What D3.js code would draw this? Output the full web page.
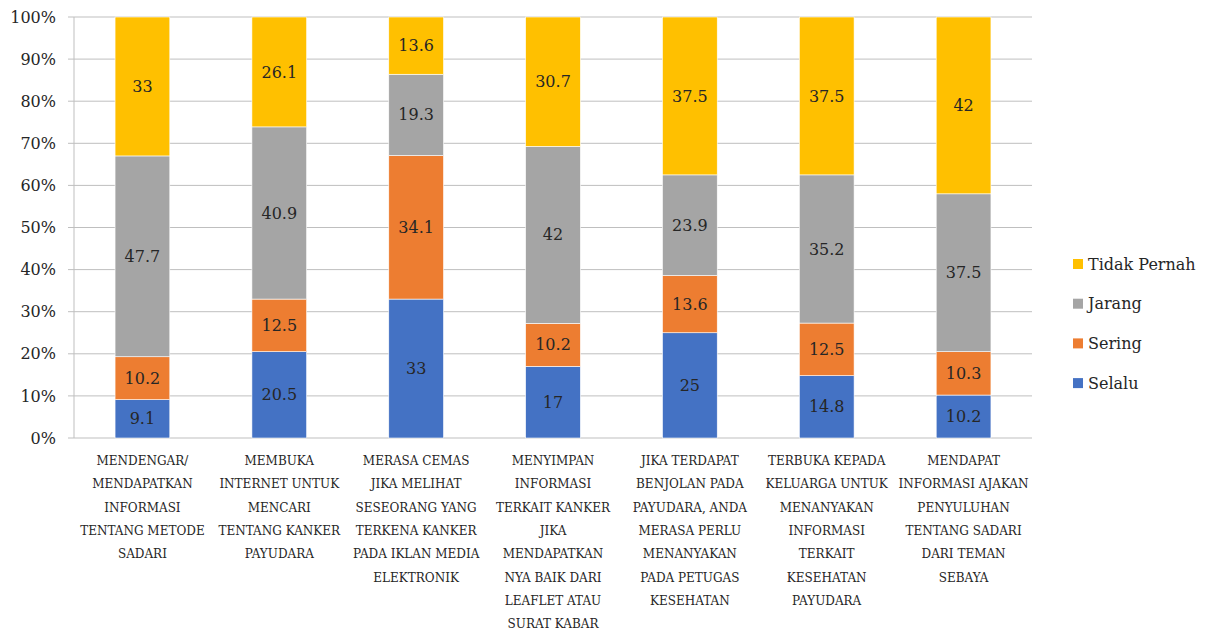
<!DOCTYPE html>
<html>
<head>
<meta charset="utf-8">
<script src="https://cdn.jsdelivr.net/npm/d3@7"></script>
<style>
  body { margin: 0; background: #fff; }
</style>
</head>
<body>
<div id="chart"></div>
<script>
// categories, one line per entry as wrapped in the picture
const categories = [
  ["MENDENGAR/", "MENDAPATKAN", "INFORMASI", "TENTANG METODE", "SADARI"],
  ["MEMBUKA", "INTERNET UNTUK", "MENCARI", "TENTANG KANKER", "PAYUDARA"],
  ["MERASA CEMAS", "JIKA MELIHAT", "SESEORANG YANG", "TERKENA KANKER", "PADA IKLAN MEDIA", "ELEKTRONIK"],
  ["MENYIMPAN", "INFORMASI", "TERKAIT KANKER", "JIKA", "MENDAPATKAN", "NYA BAIK DARI", "LEAFLET ATAU", "SURAT KABAR"],
  ["JIKA TERDAPAT", "BENJOLAN PADA", "PAYUDARA, ANDA", "MERASA PERLU", "MENANYAKAN", "PADA PETUGAS", "KESEHATAN"],
  ["TERBUKA KEPADA", "KELUARGA UNTUK", "MENANYAKAN", "INFORMASI", "TERKAIT", "KESEHATAN", "PAYUDARA"],
  ["MENDAPAT", "INFORMASI AJAKAN", "PENYULUHAN", "TENTANG SADARI", "DARI TEMAN", "SEBAYA"]
];
const seriesNames = ["Selalu", "Sering", "Jarang", "Tidak Pernah"];
const selalu      = [9.1, 20.5, 33, 17, 25, 14.8, 10.2];
const sering      = [10.2, 12.5, 34.1, 10.2, 13.6, 12.5, 10.3];
const jarang      = [47.7, 40.9, 19.3, 42, 23.9, 35.2, 37.5];
const tidakPernah = [33, 26.1, 13.6, 30.7, 37.5, 37.5, 42];
const yTicks = [0, 0.1, 0.2, 0.3, 0.4, 0.5, 0.6, 0.7, 0.8, 0.9, 1];

const colors = ["#4472C4", "#ED7D31", "#A5A5A5", "#FFC000"];
const seriesValues = [selalu, sering, jarang, tidakPernah];
const FONT = "DejaVu Serif";

const W = 1211, H = 635;
const margin = {left: 74, right: 179, top: 17, bottom: 197};
const innerW = W - margin.left - margin.right;
const innerH = H - margin.top - margin.bottom;

const svg = d3.select("#chart").append("svg")
  .attr("width", W).attr("height", H)
  .attr("font-family", FONT).style("font-family", FONT)
  .attr("fill", "#262626");
const g = svg.append("g").attr("transform", `translate(${margin.left},${margin.top})`);

const rows = categories.map((c, i) => {
  const r = {i: i};
  seriesNames.forEach((s, k) => r[s] = seriesValues[k][i]);
  return r;
});
const stack = d3.stack().keys(seriesNames).offset(d3.stackOffsetExpand);
const layers = stack(rows);

const x = d3.scaleBand().domain(d3.range(categories.length)).range([0, innerW]).paddingInner(0.6).paddingOuter(0.3);
const y = d3.scaleLinear().domain([0, 1]).range([innerH, 0]);

// gridlines
g.append("g").selectAll("line").data(yTicks).join("line")
  .attr("x1", -6).attr("x2", innerW)
  .attr("y1", d => y(d)).attr("y2", d => y(d))
  .attr("stroke", "#BFBFBF").attr("stroke-width", 1);
g.append("line").attr("x1", 0).attr("x2", 0).attr("y1", 0).attr("y2", innerH)
  .attr("stroke", "#BFBFBF");

// y labels
g.append("g").selectAll("text").data(yTicks).join("text")
  .attr("x", -18).attr("y", d => y(d)).attr("dy", "0.35em")
  .attr("text-anchor", "end").style("font-size", "16px")
  .text(d => d3.format(".0%")(d));

// bars
const layerG = g.selectAll("g.layer").data(layers).join("g")
  .attr("class", "layer").attr("fill", (d, k) => colors[k]);
layerG.selectAll("rect").data(d => d).join("rect")
  .attr("x", d => x(d.data.i))
  .attr("width", x.bandwidth())
  .attr("y", d => y(d[1]))
  .attr("height", d => y(d[0]) - y(d[1]))
  .attr("stroke", "#fff").attr("stroke-width", 0.6);

// data labels
layers.forEach((layer, k) => {
  g.append("g").selectAll("text").data(layer).join("text")
    .attr("x", d => x(d.data.i) + x.bandwidth() / 2)
    .attr("y", d => y((d[0] + d[1]) / 2)).attr("dy", "0.35em")
    .attr("text-anchor", "middle").style("font-size", "16px")
    .text(d => d.data[seriesNames[k]]);
});

// category labels
const catG = g.append("g").attr("transform", `translate(0,${innerH})`);
categories.forEach((lines, i) => {
  const t = catG.append("text").attr("text-anchor", "middle").style("font-size", "12px");
  lines.forEach((ln, j) => {
    t.append("tspan").attr("x", x(i) + x.bandwidth() / 2).attr("y", 27 + j * 23.3).text(ln);
  });
});

// legend (top to bottom reversed)
const legend = svg.append("g").attr("transform", "translate(1073,264)");
seriesNames.slice().reverse().forEach((s, j) => {
  const k = seriesNames.indexOf(s);
  const row = legend.append("g").attr("transform", `translate(0,${j * 39.7})`);
  row.append("rect").attr("x", 0).attr("y", -5).attr("width", 10).attr("height", 10).attr("fill", colors[k]);
  row.append("text").attr("x", 15).attr("dy", "0.35em").style("font-size", "16px").text(s);
});
</script>
</body>
</html>
